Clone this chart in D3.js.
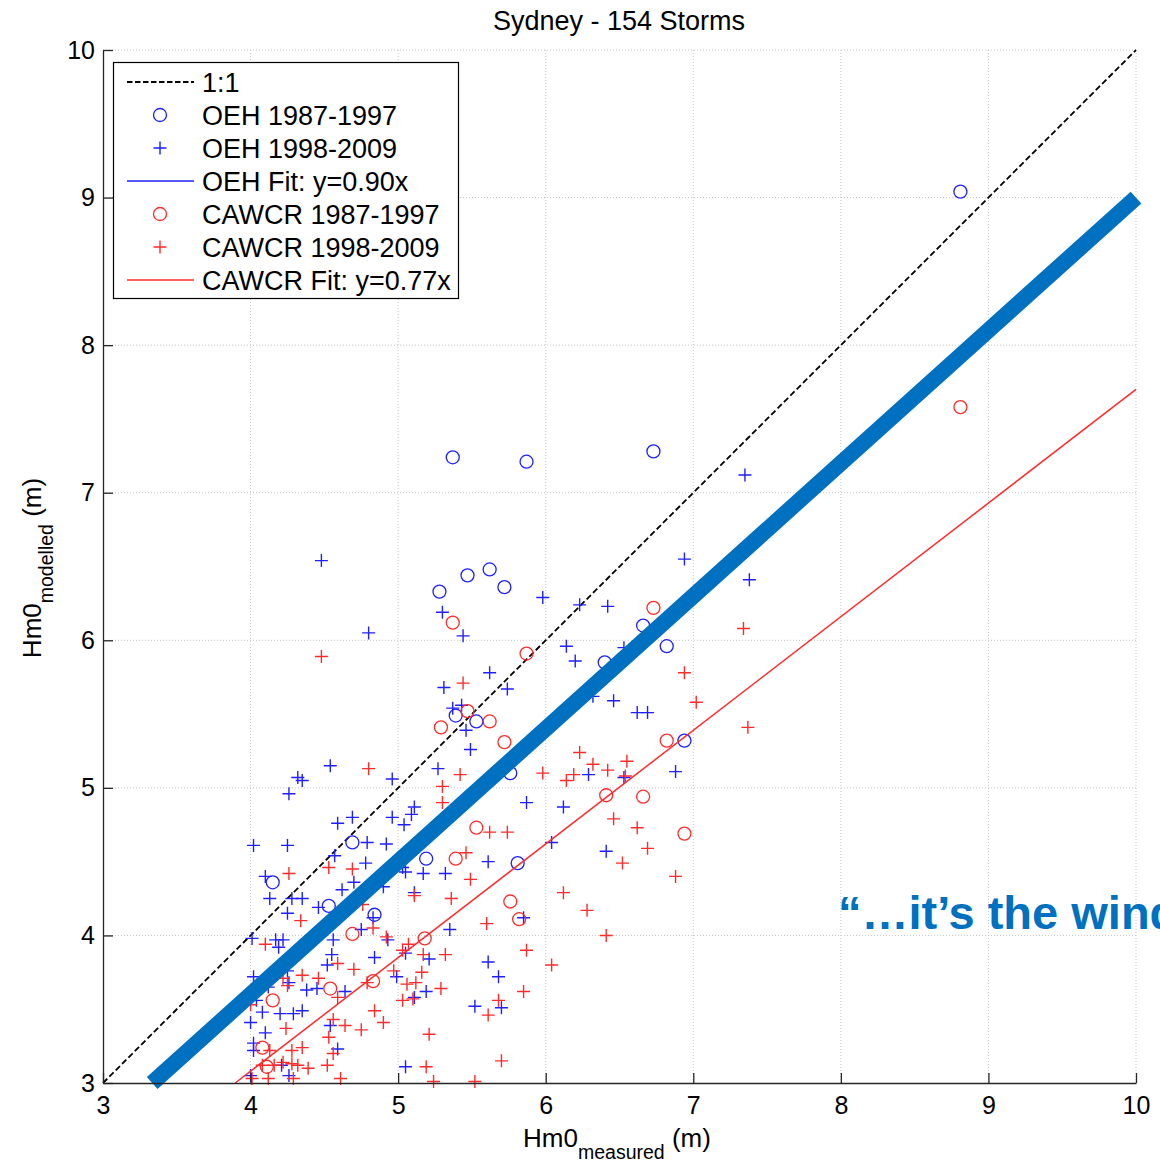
<!DOCTYPE html>
<html>
<head>
<meta charset="utf-8">
<script src="https://cdn.jsdelivr.net/npm/d3@7"></script>
<style>
  html, body { margin: 0; padding: 0; background: #fff; overflow: hidden; }
  svg { display: block; font-family: "Liberation Sans", Arial, Helvetica, sans-serif; }
</style>
</head>
<body>
<svg id="chart" width="1160" height="1162"></svg>
<script>
// Sydney storms: measured vs modelled significant wave height (Hm0, metres)
const title = "Sydney - 154 Storms";
const xTicks = [3, 4, 5, 6, 7, 8, 9, 10];
const yTicks = [3, 4, 5, 6, 7, 8, 9, 10];

// OEH model, 1987-1997 storms  [measured, modelled]
const oeh8797 = [
  [8.81, 9.04], [5.37, 7.24], [5.87, 7.21], [6.73, 7.28], [5.28, 6.33], [5.47, 6.44],
  [5.62, 6.48], [5.72, 6.36], [6.66, 6.10], [6.82, 5.96], [6.40, 5.85], [6.94, 5.32],
  [5.39, 5.49], [5.53, 5.45], [5.76, 5.10], [5.81, 4.49], [5.19, 4.52], [4.69, 4.63],
  [4.15, 4.36], [4.53, 4.20], [4.84, 4.14]
];

// OEH model, 1998-2009 storms
const oeh9809 = [
  [7.35, 7.12], [6.94, 6.55], [7.38, 6.41], [4.48, 6.54], [4.80, 6.05], [5.30, 6.19],
  [5.44, 6.03], [5.98, 6.29], [6.23, 6.24], [6.42, 6.23], [6.14, 5.96], [6.20, 5.86],
  [6.53, 5.95], [5.62, 5.78], [5.31, 5.68], [5.74, 5.67], [5.37, 5.54], [5.43, 5.56],
  [5.46, 5.39], [5.49, 5.26], [5.27, 5.13], [6.32, 5.62], [6.46, 5.59], [6.62, 5.51],
  [6.69, 5.51], [6.88, 5.11], [6.29, 5.09], [6.53, 5.07], [5.87, 4.90], [6.12, 4.87],
  [6.41, 4.57], [6.04, 4.63],
  [4.54, 5.15], [4.32, 5.07], [4.35, 5.05], [4.26, 4.96], [4.96, 5.06], [5.11, 4.87],
  [5.09, 4.82], [4.96, 4.80], [4.69, 4.80], [4.59, 4.76], [5.04, 4.75],
  [4.02, 4.61], [4.25, 4.61], [4.79, 4.63], [4.92, 4.62], [4.57, 4.54], [4.78, 4.49],
  [5.03, 4.46], [4.10, 4.40], [4.62, 4.31], [4.70, 4.36], [4.90, 4.33], [4.13, 4.25],
  [4.28, 4.25], [4.35, 4.25], [4.46, 4.19], [4.25, 4.15], [4.83, 4.12], [4.01, 3.98],
  [4.17, 3.97], [4.22, 3.97], [4.56, 3.97], [4.75, 4.04], [4.93, 3.97], [4.19, 3.92],
  [4.55, 3.87], [4.84, 3.85],
  [5.61, 4.50], [5.05, 4.43], [5.17, 4.42], [5.32, 4.42], [5.11, 4.29], [5.85, 4.12],
  [5.35, 4.04],
  [5.61, 3.82], [5.68, 3.72], [5.21, 3.84], [5.05, 3.88], [5.19, 3.62], [5.11, 3.58],
  [5.52, 3.52], [5.70, 3.51], [5.05, 3.11],
  [4.52, 3.80], [4.02, 3.72], [4.25, 3.76], [4.12, 3.65], [4.26, 3.68], [4.38, 3.63],
  [4.45, 3.64], [4.64, 3.62], [4.99, 3.72], [4.04, 3.56], [4.08, 3.48], [4.20, 3.47],
  [4.29, 3.47], [4.35, 3.49], [4.00, 3.41], [4.54, 3.39], [4.10, 3.34], [4.02, 3.27],
  [4.59, 3.23], [4.02, 3.22], [4.21, 3.12], [4.26, 3.05], [4.00, 3.05]
];

// CAWCR model, 1987-1997 storms
const cawcr8797 = [
  [8.81, 7.58], [5.37, 6.12], [5.87, 5.91], [6.73, 6.22], [5.29, 5.41], [5.47, 5.52],
  [5.62, 5.45], [5.72, 5.31], [6.66, 4.94], [6.82, 5.32], [6.41, 4.95], [6.94, 4.69],
  [5.39, 4.52], [5.53, 4.73], [5.76, 4.23], [5.82, 4.11], [5.18, 3.98], [4.69, 4.01],
  [4.15, 3.56], [4.54, 3.64], [4.83, 3.69], [4.08, 3.24], [4.11, 3.11]
];

// CAWCR model, 1998-2009 storms
const cawcr9809 = [
  [7.34, 6.08], [6.94, 5.78], [7.02, 5.58], [7.37, 5.41], [4.48, 5.89], [4.80, 5.13],
  [5.44, 5.71], [5.42, 5.09], [5.30, 5.01], [5.30, 4.90], [5.98, 5.10], [6.23, 5.24],
  [6.32, 5.16], [6.14, 5.05], [6.19, 5.09], [6.42, 5.12], [6.55, 5.18], [6.54, 5.08],
  [6.46, 4.79], [6.62, 4.73], [6.69, 4.59], [6.52, 4.49], [6.88, 4.40], [6.12, 4.29],
  [6.28, 4.17], [6.41, 4.00], [5.62, 4.70], [5.74, 4.70],
  [5.46, 4.56], [5.49, 4.38], [5.11, 4.27], [5.36, 4.25], [5.60, 4.08], [5.07, 3.94],
  [5.87, 3.90], [5.17, 3.87], [5.32, 3.87], [6.04, 3.80], [5.16, 3.75], [5.06, 3.67],
  [5.12, 3.68], [5.29, 3.64], [5.85, 3.62], [5.03, 3.56], [5.10, 3.57], [5.68, 3.56],
  [5.61, 3.46], [5.21, 3.33], [5.70, 3.15], [5.19, 3.11], [5.24, 3.01], [5.52, 3.01],
  [5.03, 3.90],
  [4.26, 4.42], [4.53, 4.46], [4.69, 4.45], [4.34, 4.10], [4.76, 4.21], [4.83, 4.05],
  [4.10, 3.94], [4.92, 3.99],
  [4.59, 3.81], [4.70, 3.77], [4.35, 3.73], [4.46, 3.71], [4.22, 3.71], [4.25, 3.66],
  [4.97, 3.76], [4.79, 3.68], [4.59, 3.58], [4.00, 3.53], [4.84, 3.49], [4.90, 3.41],
  [4.56, 3.43], [4.64, 3.39], [4.75, 3.36], [4.24, 3.37], [4.53, 3.31], [4.56, 3.20],
  [4.28, 3.22], [4.35, 3.24], [4.13, 3.22], [4.08, 3.12], [4.16, 3.12], [4.22, 3.14],
  [4.28, 3.13], [4.32, 3.12], [4.39, 3.10], [4.52, 3.12], [4.01, 3.03], [4.61, 3.03],
  [4.29, 3.03], [4.12, 3.03]
];

// least-squares slopes through the origin
const oehSlope = 0.90;
const cawcrSlope = 0.77;

const legendItems = [
  { label: "1:1", kind: "dash" },
  { label: "OEH 1987-1997", kind: "circle", color: "blue" },
  { label: "OEH 1998-2009", kind: "plus", color: "blue" },
  { label: "OEH Fit: y=" + oehSlope.toFixed(2) + "x", kind: "line", color: "blue" },
  { label: "CAWCR 1987-1997", kind: "circle", color: "red" },
  { label: "CAWCR 1998-2009", kind: "plus", color: "red" },
  { label: "CAWCR Fit: y=" + cawcrSlope.toFixed(2) + "x", kind: "line", color: "red" }
];
const callout = "\u201C\u2026it\u2019s the wind";

// ---------------------------------------------------------------
const svg = d3.select("#chart");
const x = d3.scaleLinear().domain([3, 10]).range([103, 1136]);
const y = d3.scaleLinear().domain([3, 10]).range([1083, 50]);
const colors = { blue: "#1f1fff", red: "#ff2a2a" };
const R = 6.5;

// dotted grid
const grid = svg.append("g").attr("stroke", "#c4c4c4").attr("stroke-width", 1)
  .attr("stroke-dasharray", "1,2");
grid.selectAll("line.gx").data(xTicks.slice(1)).join("line")
  .attr("x1", d => x(d)).attr("x2", d => x(d)).attr("y1", y(3)).attr("y2", y(10));
grid.selectAll("line.gy").data(yTicks.slice(1)).join("line")
  .attr("y1", d => y(d)).attr("y2", d => y(d)).attr("x1", x(3)).attr("x2", x(10));

// 1:1 reference
svg.append("line")
  .attr("x1", x(3)).attr("y1", y(3)).attr("x2", x(10)).attr("y2", y(10))
  .attr("stroke", "#000").attr("stroke-width", 1.8).attr("stroke-dasharray", "6,3");

const plusPath = "M" + (-R) + ",0H" + R + "M0," + (-R) + "V" + R;

function circles(data, color) {
  svg.append("g").selectAll("circle").data(data).join("circle")
    .attr("cx", d => x(d[0])).attr("cy", d => y(d[1])).attr("r", R)
    .attr("fill", "none").attr("stroke", color).attr("stroke-width", 1.3);
}
function pluses(data, color) {
  svg.append("g").selectAll("path").data(data).join("path")
    .attr("transform", d => `translate(${x(d[0])},${y(d[1])})`)
    .attr("d", plusPath).attr("fill", "none").attr("stroke", color).attr("stroke-width", 1.4);
}
circles(oeh8797, colors.blue);
pluses(oeh9809, colors.blue);
circles(cawcr8797, colors.red);
pluses(cawcr9809, colors.red);

// fit lines
svg.append("line")
  .attr("x1", x(3 / cawcrSlope)).attr("y1", y(3))
  .attr("x2", x(10)).attr("y2", y(10 * cawcrSlope))
  .attr("stroke", colors.red).attr("stroke-width", 1.5);
svg.append("line")
  .attr("x1", x(3 / oehSlope)).attr("y1", y(3))
  .attr("x2", x(10)).attr("y2", y(10 * oehSlope))
  .attr("stroke", "#0070C0").attr("stroke-width", 16);

// axes
const axisFont = 25;
const gx = svg.append("g").attr("transform", `translate(0,${y(3)})`)
  .call(d3.axisBottom(x).tickValues(xTicks).tickFormat(d3.format("d"))
    .tickSizeInner(-10).tickSizeOuter(0).tickPadding(13));
const gy = svg.append("g").attr("transform", `translate(${x(3)},0)`)
  .call(d3.axisLeft(y).tickValues(yTicks).tickFormat(d3.format("d"))
    .tickSizeInner(-10).tickSizeOuter(0).tickPadding(8));
[gx, gy].forEach(g => {
  g.select(".domain").attr("stroke", "#262626").attr("stroke-width", 1.3);
  g.selectAll(".tick line").attr("stroke", "#262626").attr("stroke-width", 1.3);
  g.selectAll(".tick text").attr("fill", "#000").attr("font-size", axisFont)
    .attr("font-family", "Liberation Sans, Arial, sans-serif");
});

// title and axis labels
svg.append("text").attr("x", 619).attr("y", 30).attr("text-anchor", "middle")
  .attr("font-size", 27).text(title);

const xl = svg.append("text").attr("x", 617).attr("y", 1147).attr("text-anchor", "middle")
  .attr("font-size", 26);
xl.append("tspan").text("Hm0");
xl.append("tspan").attr("font-size", 19.5).attr("dy", 12).text("measured");
xl.append("tspan").attr("dy", -12).text(" (m)");

const yl = svg.append("text").attr("transform", "translate(41,568) rotate(-90)")
  .attr("text-anchor", "middle").attr("font-size", 26);
yl.append("tspan").text("Hm0");
yl.append("tspan").attr("font-size", 19.5).attr("dy", 12).text("modelled");
yl.append("tspan").attr("dy", -12).text(" (m)");

// legend
const lg = svg.append("g");
lg.append("rect").attr("x", 113.5).attr("y", 62.5).attr("width", 345).attr("height", 236)
  .attr("fill", "#fff").attr("stroke", "#000").attr("stroke-width", 1.2);
const rows = lg.selectAll("g.row").data(legendItems).join("g")
  .attr("transform", (d, i) => `translate(0,${82 + i * 33})`);
rows.each(function (d) {
  const g = d3.select(this);
  if (d.kind === "dash") {
    g.append("line").attr("x1", 127).attr("x2", 194).attr("stroke", "#000")
      .attr("stroke-width", 1.8).attr("stroke-dasharray", "5.5,2.5");
  } else if (d.kind === "line") {
    g.append("line").attr("x1", 127).attr("x2", 194).attr("stroke", colors[d.color])
      .attr("stroke-width", 1.5);
  } else if (d.kind === "circle") {
    g.append("circle").attr("cx", 160).attr("r", R).attr("fill", "none")
      .attr("stroke", colors[d.color]).attr("stroke-width", 1.3);
  } else {
    g.append("path").attr("transform", "translate(160,0)").attr("d", plusPath)
      .attr("fill", "none").attr("stroke", colors[d.color]).attr("stroke-width", 1.4);
  }
  g.append("text").attr("x", 202).attr("dy", "0.36em").attr("font-size", 27).text(d.label);
});

// callout, running off the right edge of the page
svg.append("text").attr("x", 838).attr("y", 929).attr("font-size", 47)
  .attr("font-weight", "bold").attr("fill", "#0070C0").text(callout);
</script>
</body>
</html>
